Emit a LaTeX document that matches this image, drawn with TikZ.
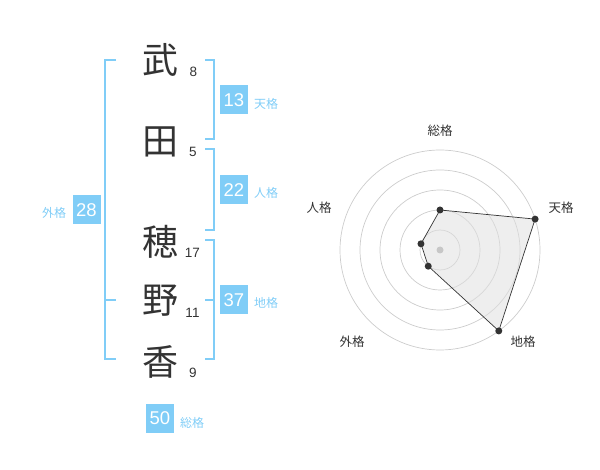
\documentclass[tikz,border=0pt]{standalone}
\usepackage{fontspec}
\usetikzlibrary{calc}
\setmainfont{Liberation Sans}
\newfontfamily\jp{Noto Sans CJK JP}
\definecolor{sky}{HTML}{80CDF7}
\definecolor{ink}{HTML}{333333}
\begin{document}
\begin{tikzpicture}[x=1pt,y=-1pt,
 kanji/.style={font=\jp\fontsize{36}{36}\selectfont, text=ink, inner sep=0pt},
 strokes/.style={font=\fontsize{13.5}{14}\selectfont, text=ink, inner sep=0pt},
 valbox/.style={fill=sky, text=white, font=\fontsize{18.5}{18}\selectfont, minimum width=28pt, minimum height=29pt, inner sep=0pt},
 lab/.style={font=\jp\fontsize{12}{12}\selectfont, text=sky, inner sep=0pt},
 brk/.style={draw=sky, line width=2pt},
 ring/.style={draw=black!20, line width=0.7pt},
 rlab/.style={font=\jp\fontsize{12.5}{12}\selectfont, text=ink, inner sep=0pt},
 dot/.style={circle, fill=ink, inner sep=0pt, minimum size=7pt}
]
\useasboundingbox (0,0) rectangle (600,470);
% name characters
\node[kanji] (k1) at (160,60) {武};
\node[kanji] (k2) at (160,142) {田};
\node[kanji] (k3) at (160,242) {穂};
\node[kanji] (k4) at (160,301) {野};
\node[kanji] (k5) at (160,362) {香};
\node[strokes] (s1) at (193.5,72) {8};
\node[strokes] (s2) at (193,152) {5};
\node[strokes] (s3) at (192.5,252.5) {17};
\node[strokes] (s4) at (192.5,312.5) {11};
\node[strokes] (s5) at (193,372.5) {9};
% brackets
\draw[brk] (116,60) -- (105,60) -- (105,359) -- (116,359);
\draw[brk] (105,300) -- (116,300);
\draw[brk] (205,60) -- (214,60) -- (214,139) -- (205,139);
\draw[brk] (205,149) -- (214,149) -- (214,230) -- (205,230);
\draw[brk] (205,240) -- (214,240) -- (214,359) -- (205,359);
\draw[brk] (205,300) -- (214,300);
% value boxes
\node[valbox] (ten) at (234,100) {13};
\node[lab] (tenl) at (266,104) {天格};
\node[valbox] (jin) at (234,190) {22};
\node[lab] (jinl) at (266,193) {人格};
\node[valbox] (chi) at (234,300) {37};
\node[lab] (chil) at (266,303) {地格};
\node[valbox] (gai) at (86.5,210) {28};
\node[lab] (gail) at (54,213) {外格};
\node[valbox] (sou) at (160,418.5) {50};
\node[lab] (soul) at (192,423) {総格};
% radar chart
\coordinate (c) at (440,250);
\foreach \r in {20,40,60,80,100} \draw[ring] (c) circle (\r);
\coordinate (v1) at ($(c)+(-90:40)$);
\coordinate (v2) at ($(c)+(-18:100)$);
\coordinate (v3) at ($(c)+(54:100)$);
\coordinate (v4) at ($(c)+(126:20)$);
\coordinate (v5) at ($(c)+(-162:20)$);
\fill[black!12, fill opacity=0.55] (v1) -- (v2) -- (v3) -- (v4) -- (v5) -- cycle;
\draw[ink, line width=0.7pt] (v1) -- (v2) -- (v3) -- (v4) -- (v5) -- cycle;
\node[circle, fill=black!22, inner sep=0pt, minimum size=7pt] (cd) at (c) {};
\foreach \i in {1,...,5} \node[dot] (d\i) at (v\i) {};
\node[rlab] (r1) at (440,131) {総格};
\node[rlab] (r2) at (561,208) {天格};
\node[rlab] (r3) at (523,342) {地格};
\node[rlab] (r4) at (352,342) {外格};
\node[rlab] (r5) at (319,208) {人格};
\end{tikzpicture}
\end{document}
